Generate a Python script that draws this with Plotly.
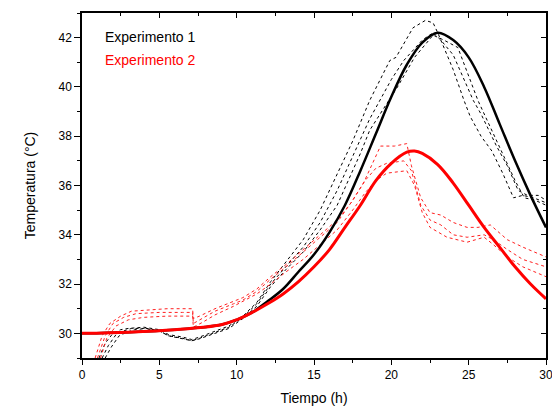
import plotly.graph_objects as go

# modelo (líneas continuas)
model1_x = [0, 3, 6, 9, 10, 11, 12, 13, 14, 15, 16, 17, 18, 19, 20, 21, 22, 23, 24, 25, 26, 27, 28, 29, 30]
model1_y = [30.0, 30.05, 30.15, 30.35, 30.55, 30.85, 31.3, 31.8, 32.5, 33.2, 34.1, 35.2, 36.6, 38.1, 39.6, 40.9,
            41.8, 42.2, 41.9, 41.2, 40.0, 38.5, 37.0, 35.6, 34.3]

model2_x = [0, 3, 6, 9, 10, 11, 12, 13, 14, 15, 16, 17, 18, 19, 20, 21, 21.5, 22, 23, 24, 25, 26, 27, 28, 29, 30]
model2_y = [30.0, 30.05, 30.15, 30.35, 30.55, 30.85, 31.2, 31.6, 32.1, 32.7, 33.4, 34.3, 35.2, 36.2, 36.9, 37.35,
            37.4, 37.3, 36.85, 36.1, 35.2, 34.3, 33.5, 32.7, 32.0, 31.4]

# experimento 1 (réplicas)
exp1a_x = [1.1, 1.5, 2.0, 2.5, 3.0, 4.0, 5.0, 5.6, 6.5, 7.1, 7.6, 8.6, 9.5, 10.4, 11.3, 12.2, 13.2, 14.3, 15.4,
           16.5, 17.5, 18.6, 19.9, 20.3, 21.4, 22.2, 22.7, 23.0, 23.4, 24.0, 24.7, 25.1, 25.8, 26.5, 27.2, 27.9,
           28.5, 29.2, 30]
exp1a_y = [29.0, 29.6, 30.0, 30.15, 30.2, 30.25, 30.15, 29.95, 29.85, 29.75, 29.85, 30.1, 30.3, 30.7, 31.25, 32.1,
           32.9, 33.8, 35.0, 36.5, 37.8, 39.45, 41.07, 41.2, 42.4, 42.7, 42.6, 42.2, 41.6, 40.7, 39.45, 38.8, 38.0,
           37.4, 36.5, 35.5, 35.6, 35.5, 35.3]

exp1b_x = [1.3, 1.7, 2.2, 2.7, 3.2, 4.0, 5.0, 5.6, 6.5, 7.1, 7.6, 8.6, 9.5, 10.4, 11.3, 12.2, 13.2, 14.3, 15.4,
           16.5, 18.6, 20.0, 20.8, 22.0, 22.7, 23.2, 24.0, 25.3, 25.8, 26.8, 27.5, 28.2, 28.8, 29.5, 30]
exp1b_y = [29.0, 29.5, 29.95, 30.1, 30.2, 30.2, 30.1, 29.9, 29.8, 29.7, 29.8, 30.05, 30.25, 30.65, 31.2, 32.0,
           32.7, 33.5, 34.5, 35.8, 38.7, 40.3, 41.07, 41.9, 42.2, 41.9, 41.3, 39.45, 38.9, 37.6, 36.8, 35.8, 35.6,
           35.6, 35.4]

exp1c_x = [1.5, 1.9, 2.4, 2.9, 3.4, 4.2, 5.0, 5.6, 6.5, 7.1, 7.6, 8.6, 9.5, 10.4, 11.3, 12.2, 13.2, 14.3, 15.4,
           16.5, 18.0, 18.6, 20.4, 21.5, 22.7, 23.4, 24.3, 25.6, 26.3, 27.2, 28.0, 28.6, 29.3, 30]
exp1c_y = [29.0, 29.45, 29.9, 30.05, 30.15, 30.2, 30.1, 29.9, 29.78, 29.7, 29.78, 30.0, 30.2, 30.6, 31.1, 31.9,
           32.6, 33.3, 34.2, 35.2, 37.3, 38.24, 40.0, 41.2, 42.1, 41.9, 41.6, 39.45, 38.5, 37.3, 36.2, 35.5,
           35.4, 35.2]

# experimento 2 (réplicas)
exp2a_x = [0.85, 1.3, 1.8, 2.5, 3.2, 4.5, 5.5, 6.5, 7.15, 7.2, 7.6, 8.6, 9.8, 10.4, 11.3, 12.2, 13.2, 14.3, 15.4,
           16.5, 17.4, 18.2, 19.3, 20.2, 21.0, 21.3, 21.9, 22.5, 23.2, 24.0, 24.9, 25.6, 26.4, 27.5, 28.5, 30]
exp2a_y = [29.0, 29.9, 30.4, 30.7, 30.9, 30.95, 31.0, 31.0, 31.0, 30.6, 30.7, 31.0, 31.3, 31.45, 31.8, 32.3, 32.8,
           33.4, 34.0, 34.6, 35.3, 36.1, 37.6, 37.6, 37.7, 36.8, 35.5, 34.9, 34.8, 34.5, 34.3, 34.3, 34.4, 33.8,
           33.5, 33.1]

exp2b_x = [1.0, 1.5, 2.0, 2.7, 3.5, 5.0, 6.5, 7.15, 7.2, 7.8, 8.6, 9.8, 10.4, 11.3, 12.2, 13.2, 14.3, 15.4, 16.5,
           17.5, 18.3, 19.0, 19.7, 20.8, 21.3, 21.9, 22.5, 23.2, 24.0, 24.9, 26.0, 26.6, 27.5, 28.5, 30]
exp2b_y = [29.0, 29.9, 30.4, 30.65, 30.8, 30.85, 30.85, 30.85, 30.4, 30.6, 30.9, 31.2, 31.35, 31.7, 32.2, 32.7,
           33.3, 33.9, 34.5, 35.4, 36.2, 36.7, 36.9, 37.0, 36.6, 35.2, 34.6, 34.4, 34.0, 33.9, 34.0, 33.8, 33.4,
           33.0, 32.7]

exp2c_x = [1.2, 1.6, 2.2, 3.0, 4.0, 5.5, 7.15, 7.2, 7.8, 8.6, 9.8, 10.4, 11.3, 12.2, 13.2, 14.3, 15.4, 16.5, 17.5,
           18.3, 19.0, 19.7, 21.0, 21.5, 22.0, 22.5, 23.6, 24.9, 26.0, 26.6, 27.5, 28.5, 30]
exp2c_y = [29.0, 29.8, 30.3, 30.55, 30.65, 30.7, 30.7, 30.25, 30.45, 30.75, 31.1, 31.3, 31.6, 32.0, 32.5, 33.0,
           33.6, 34.2, 35.0, 35.7, 36.2, 36.5, 36.6, 36.0, 34.9, 34.3, 33.9, 33.7, 33.9, 33.6, 33.1, 32.7, 32.3]

FONT = "Liberation Sans, Arial, sans-serif"

fig = go.Figure()

for xs, ys in [(exp1a_x, exp1a_y), (exp1b_x, exp1b_y), (exp1c_x, exp1c_y)]:
    fig.add_trace(go.Scatter(x=xs, y=ys, mode="lines", line={"color": "black", "width": 1, "dash": "dot"},
                             showlegend=False))
for xs, ys in [(exp2a_x, exp2a_y), (exp2b_x, exp2b_y), (exp2c_x, exp2c_y)]:
    fig.add_trace(go.Scatter(x=xs, y=ys, mode="lines", line={"color": "#ff2020", "width": 1, "dash": "dot"},
                             showlegend=False))

fig.add_trace(go.Scatter(x=model1_x, y=model1_y, mode="lines",
                         line={"color": "black", "width": 2.5, "shape": "spline"}, showlegend=False))
fig.add_trace(go.Scatter(x=model2_x, y=model2_y, mode="lines",
                         line={"color": "#ff0000", "width": 3, "shape": "spline"}, showlegend=False))

# ejes espejo (arriba / derecha) con ticks hacia dentro
fig.add_trace(go.Scatter(x=[None], y=[None], xaxis="x2", yaxis="y2", showlegend=False, hoverinfo="skip"))

axis_common = {
    "showgrid": False,
    "zeroline": False,
    "showline": True,
    "linecolor": "black",
    "linewidth": 1.5,
    "tickcolor": "black",
    "tickwidth": 1.2,
    "automargin": False,
}

fig.update_layout(
    width=552,
    height=409,
    plot_bgcolor="white",
    paper_bgcolor="white",
    margin={"l": 82, "r": 6, "t": 13, "b": 51},
    font={"family": FONT, "color": "black", "size": 12},
    xaxis={
        **axis_common,
        "range": [0, 30],
        "tickmode": "linear",
        "tick0": 0,
        "dtick": 5,
        "ticks": "outside",
        "ticklen": 5,
        "minor": {"ticks": "outside", "ticklen": 3, "dtick": 2.5, "tickcolor": "black", "tickwidth": 1.2},
        "tickfont": {"size": 12},
        "ticklabeloverflow": "allow",
        "title": {"text": "Tiempo (h)", "font": {"size": 14}, "standoff": 12},
    },
    yaxis={
        **axis_common,
        "range": [29, 43],
        "tickmode": "linear",
        "tick0": 30,
        "dtick": 2,
        "ticks": "outside",
        "ticklen": 6,
        "minor": {"ticks": "outside", "ticklen": 3, "dtick": 1, "tickcolor": "black", "tickwidth": 1.2},
        "tickfont": {"size": 12},
        "title": {"text": "Temperatura (°C)", "font": {"size": 14}, "standoff": 20},
    },
    xaxis2={
        **axis_common,
        "overlaying": "x",
        "side": "top",
        "range": [0, 30],
        "tickmode": "linear",
        "tick0": 0,
        "dtick": 5,
        "ticks": "inside",
        "ticklen": 5,
        "minor": {"ticks": "inside", "ticklen": 3, "dtick": 2.5, "tickcolor": "black", "tickwidth": 1.2},
        "showticklabels": False,
    },
    yaxis2={
        **axis_common,
        "overlaying": "y",
        "side": "right",
        "range": [29, 43],
        "tickmode": "linear",
        "tick0": 30,
        "dtick": 2,
        "ticks": "inside",
        "ticklen": 5,
        "minor": {"ticks": "inside", "ticklen": 3, "dtick": 1, "tickcolor": "black", "tickwidth": 1.2},
        "showticklabels": False,
    },
    annotations=[
        {"x": 0.045, "y": 0.93, "xref": "paper", "yref": "paper", "text": "Experimento 1",
         "showarrow": False, "xanchor": "left", "yanchor": "middle",
         "font": {"size": 14, "color": "black"}},
        {"x": 0.045, "y": 0.864, "xref": "paper", "yref": "paper", "text": "Experimento 2",
         "showarrow": False, "xanchor": "left", "yanchor": "middle",
         "font": {"size": 14, "color": "#ff0000"}},
    ],
)

# quitar el margen por defecto del <body> para que la figura ocupe la ventana
fig.write_html("out.html", config={"displayModeBar": False},
               post_script="document.body.style.margin='0';")
